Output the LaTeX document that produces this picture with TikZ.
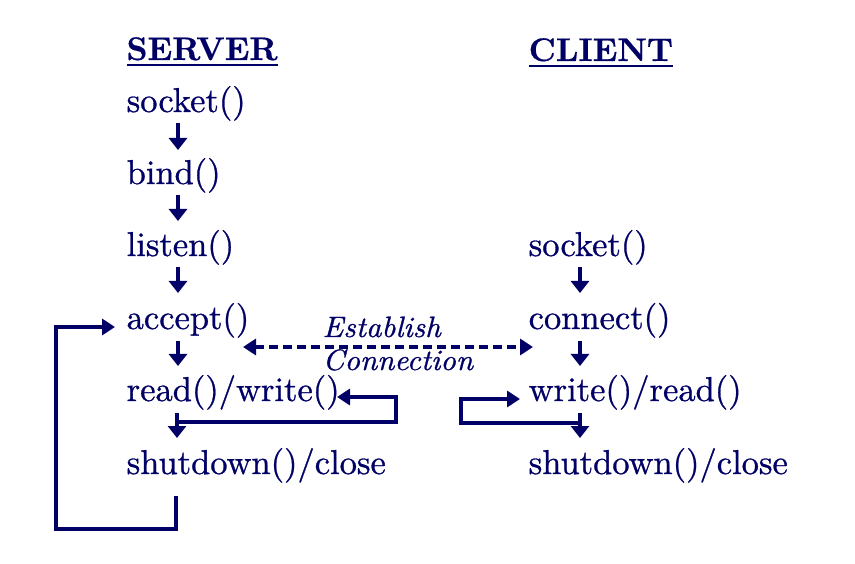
\documentclass[tikz,border=0pt]{standalone}
\usepackage{fontspec}
\newfontfamily\heavyrm{lmroman10-regular.otf}[FakeBold=0.8]
\newfontfamily\heavybf{lmroman10-bold.otf}[FakeBold=0.5]
\newfontfamily\heavyit{lmroman10-italic.otf}[FakeBold=0.8]
\usetikzlibrary{arrows.meta,calc}
\definecolor{navy}{RGB}{0,0,102}
\begin{document}
\begin{tikzpicture}[x=1pt,y=-1pt,
  base/.style={inner sep=0pt, anchor=base west, text=navy, transform shape},
  txt/.style={base, font=\fontsize{10}{12}\heavyrm, scale=3.45},
  ttl/.style={base, font=\fontsize{10}{12}\heavybf, scale=3.27},
  lbl/.style={base, font=\fontsize{10}{12}\heavyit, xscale=3.05, yscale=2.95},
  flow/.style={draw=navy, line width=3.7pt, -{Triangle[length=12pt,width=18pt]}},
  hflow/.style={draw=navy, line width=3.7pt, -{Triangle[length=13pt,width=16pt]}},
  conn/.style={draw=navy, line width=3.5pt, dash pattern=on 9pt off 5pt,
    {Triangle[length=13pt,width=16pt]}-{Triangle[length=13pt,width=16pt]}}
]
\useasboundingbox (0,0) rectangle (855,564);
\fill[white] (0,0) rectangle (855,564);

\node[ttl] (srv) at (126,60) {\underline{SERVER}};
\node[ttl] (cli) at (528,61) {\underline{CLIENT}};

\node[txt] (s1) at (126,112) {socket()};
\node[txt] (s2) at (126,184) {bind()};
\node[txt] (s3) at (126,256) {listen()};
\node[txt] (s4) at (126,329) {accept()};
\node[txt] (s5) at (126,401) {read()/write()};
\node[txt] (s6) at (126,474) {shutdown()/close};

\node[txt] (c1) at (528,256) {socket()};
\node[txt] (c2) at (528,329) {connect()};
\node[txt] (c3) at (528,401) {write()/read()};
\node[txt] (c4) at (528,474) {shutdown()/close};

\node[lbl] (est) at (322,337) {Establish};
\node[lbl] (con) at (322,370) {Connection};

% server chain
\draw[flow] ($(s1.base west)+(52,11)$) -- ($(s2.base west)+(52,-34)$);
\draw[flow] ($(s2.base west)+(52,11)$) -- ($(s3.base west)+(52,-35)$);
\draw[flow] ($(s3.base west)+(52,11)$) -- ($(s4.base west)+(52,-36)$);
\draw[flow] ($(s4.base west)+(52,12)$) -- ($(s5.base west)+(52,-35)$);
\draw[flow] ($(s5.base west)+(51,12)$) -- ($(s6.base west)+(51,-36)$);

% client chain
\draw[flow] ($(c1.base west)+(52,11)$) -- ($(c2.base west)+(52,-36)$);
\draw[flow] ($(c2.base west)+(52,12)$) -- ($(c3.base west)+(52,-35)$);
\draw[flow] ($(c3.base west)+(52,12)$) -- ($(c4.base west)+(52,-36)$);

% connection
\draw[conn] ($(s4.base west)+(117,18)$) -- ($(c2.base west)+(5,18)$);

% server read/write loop
\draw[hflow] ($(s5.base west)+(51,21)$) -| ($(s5.base west)+(270,-4)$) -- ($(s5.base west)+(211,-4)$);

% client write/read loop
\draw[hflow] ($(c3.base west)+(52,22)$) -| ($(c3.base west)+(-67,-2)$) -- ($(c3.base west)+(-8,-2)$);

% server outer loop
\draw[hflow] ($(s6.base west)+(50,22)$) -- ($(s6.base west)+(50,55)$) -| ($(s4.base west)+(-70,-2)$) -- ($(s4.base west)+(-11,-2)$);
\end{tikzpicture}
\end{document}
